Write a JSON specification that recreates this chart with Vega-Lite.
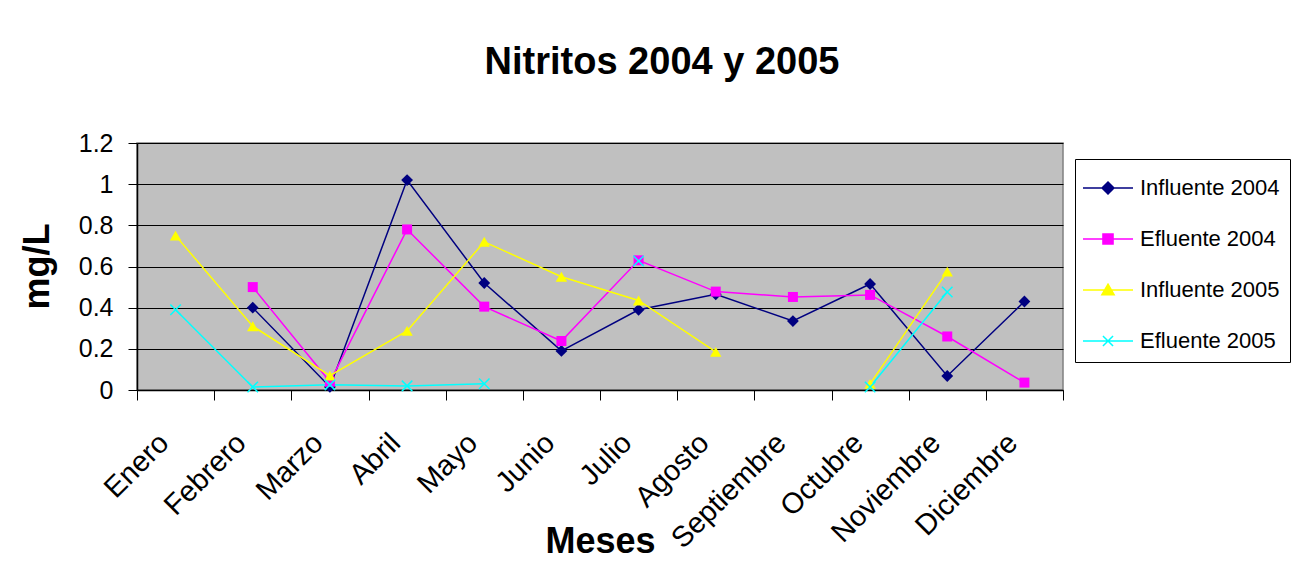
{
  "$schema": "https://vega.github.io/schema/vega-lite/v6.json",
  "autosize": "none",
  "width": 926,
  "height": 247,
  "padding": {"left": 137, "top": 143, "right": 240, "bottom": 179},
  "background": "white",
  "title": {
    "text": "Nitritos 2004 y 2005",
    "font": "Liberation Sans",
    "fontSize": 38,
    "fontWeight": "bold",
    "color": "black",
    "anchor": "middle",
    "frame": "group",
    "dx": 62,
    "dy": 43,
    "baseline": "alphabetic",
    "offset": 62
  },
  "data": {
    "values": [
      {"mes": "Enero", "serie": "Influente 2004", "v": null},
      {"mes": "Febrero", "serie": "Influente 2004", "v": 0.40},
      {"mes": "Marzo", "serie": "Influente 2004", "v": 0.015},
      {"mes": "Abril", "serie": "Influente 2004", "v": 1.02},
      {"mes": "Mayo", "serie": "Influente 2004", "v": 0.52},
      {"mes": "Junio", "serie": "Influente 2004", "v": 0.19},
      {"mes": "Julio", "serie": "Influente 2004", "v": 0.39},
      {"mes": "Agosto", "serie": "Influente 2004", "v": 0.465},
      {"mes": "Septiembre", "serie": "Influente 2004", "v": 0.335},
      {"mes": "Octubre", "serie": "Influente 2004", "v": 0.515},
      {"mes": "Noviembre", "serie": "Influente 2004", "v": 0.068},
      {"mes": "Diciembre", "serie": "Influente 2004", "v": 0.43},
      {"mes": "Enero", "serie": "Efluente 2004", "v": null},
      {"mes": "Febrero", "serie": "Efluente 2004", "v": 0.50},
      {"mes": "Marzo", "serie": "Efluente 2004", "v": 0.04},
      {"mes": "Abril", "serie": "Efluente 2004", "v": 0.78},
      {"mes": "Mayo", "serie": "Efluente 2004", "v": 0.405},
      {"mes": "Junio", "serie": "Efluente 2004", "v": 0.238},
      {"mes": "Julio", "serie": "Efluente 2004", "v": 0.63},
      {"mes": "Agosto", "serie": "Efluente 2004", "v": 0.478},
      {"mes": "Septiembre", "serie": "Efluente 2004", "v": 0.452},
      {"mes": "Octubre", "serie": "Efluente 2004", "v": 0.462},
      {"mes": "Noviembre", "serie": "Efluente 2004", "v": 0.26},
      {"mes": "Diciembre", "serie": "Efluente 2004", "v": 0.036},
      {"mes": "Enero", "serie": "Influente 2005", "v": 0.75},
      {"mes": "Febrero", "serie": "Influente 2005", "v": 0.31},
      {"mes": "Marzo", "serie": "Influente 2005", "v": 0.07},
      {"mes": "Abril", "serie": "Influente 2005", "v": 0.287},
      {"mes": "Mayo", "serie": "Influente 2005", "v": 0.72},
      {"mes": "Junio", "serie": "Influente 2005", "v": 0.55},
      {"mes": "Julio", "serie": "Influente 2005", "v": 0.435},
      {"mes": "Agosto", "serie": "Influente 2005", "v": 0.185},
      {"mes": "Septiembre", "serie": "Influente 2005", "v": null},
      {"mes": "Octubre", "serie": "Influente 2005", "v": 0.03},
      {"mes": "Noviembre", "serie": "Influente 2005", "v": 0.575},
      {"mes": "Diciembre", "serie": "Influente 2005", "v": null},
      {"mes": "Enero", "serie": "Efluente 2005", "v": 0.39},
      {"mes": "Febrero", "serie": "Efluente 2005", "v": 0.015},
      {"mes": "Marzo", "serie": "Efluente 2005", "v": 0.025},
      {"mes": "Abril", "serie": "Efluente 2005", "v": 0.02},
      {"mes": "Mayo", "serie": "Efluente 2005", "v": 0.03},
      {"mes": "Junio", "serie": "Efluente 2005", "v": null},
      {"mes": "Julio", "serie": "Efluente 2005", "v": 0.627},
      {"mes": "Agosto", "serie": "Efluente 2005", "v": null},
      {"mes": "Septiembre", "serie": "Efluente 2005", "v": null},
      {"mes": "Octubre", "serie": "Efluente 2005", "v": 0.015},
      {"mes": "Noviembre", "serie": "Efluente 2005", "v": 0.476},
      {"mes": "Diciembre", "serie": "Efluente 2005", "v": null}
    ]
  },
  "encoding": {
    "x": {
      "field": "mes",
      "type": "ordinal",
      "sort": ["Enero", "Febrero", "Marzo", "Abril", "Mayo", "Junio", "Julio", "Agosto", "Septiembre", "Octubre", "Noviembre", "Diciembre"],
      "scale": {"type": "band", "paddingInner": 0, "paddingOuter": 0},
      "axis": {
        "title": "Meses",
        "titleFont": "Liberation Sans",
        "titleFontSize": 36,
        "titleFontWeight": "bold",
        "titleColor": "black",
        "titleX": 463,
        "titleY": 162,
        "titleAnchor": null,
        "titleAlign": "center",
        "titleBaseline": "alphabetic",
        "labelAngle": -45,
        "labelAlign": "right",
        "labelBaseline": "middle",
        "labelFont": "Liberation Sans",
        "labelFontSize": 29,
        "labelColor": "black",
        "labelPadding": 38,
        "labelOffset": -12,
        "labelOverlap": false,
        "labelLimit": 400,
        "tickBand": "extent",
        "tickSize": 10,
        "tickColor": "black",
        "tickWidth": 1,
        "domainColor": "black",
        "domainWidth": 1.5,
        "grid": false
      }
    },
    "y": {
      "field": "v",
      "type": "quantitative",
      "scale": {"domain": [0, 1.2], "nice": false, "zero": true},
      "axis": {
        "title": "mg/L",
        "titleFont": "Liberation Sans",
        "titleFontSize": 36,
        "titleFontWeight": "bold",
        "titleColor": "black",
        "titleAngle": -90,
        "titleX": -89,
        "titleY": 123,
        "titleAlign": "center",
        "titleBaseline": "alphabetic",
        "values": [0, 0.2, 0.4, 0.6, 0.8, 1, 1.2],
        "format": "~g",
        "labelFont": "Liberation Sans",
        "labelFontSize": 25,
        "labelColor": "black",
        "labelPadding": 15,
        "tickSize": 9,
        "tickColor": "black",
        "domainColor": "black",
        "domainWidth": 1.5,
        "grid": true,
        "gridColor": "black",
        "gridWidth": 1
      }
    }
  },
  "layer": [
    {
      "mark": {"type": "line", "strokeWidth": 1.5, "invalid": "break-paths-show-domains"},
      "encoding": {
        "color": {
          "field": "serie",
          "type": "nominal",
          "scale": {
            "domain": ["Influente 2004", "Efluente 2004", "Influente 2005", "Efluente 2005"],
            "range": ["#000080", "#FF00FF", "#FFFF00", "#00FFFF"]
          },
          "legend": {
            "title": null,
            "orient": "none",
            "legendX": 938,
            "legendY": 16,
            "strokeColor": "black",
            "fillColor": "white",
            "padding": 10,
            "symbolSize": 1296,
            "symbolOffset": 4,
            "labelOffset": 13,
            "rowPadding": 21,
            "labelFont": "Liberation Sans",
            "labelFontSize": 22,
            "labelColor": "black",
            "labelLimit": 300,
            "symbolStrokeWidth": 1.5,
            "encode": {
              "symbols": {
                "update": {
                  "shape": {"signal": "datum.value === 'Influente 2004' ? 'M-1.39,0H1.39M0,-0.33L0.33,0L0,0.33L-0.33,0Z' : datum.value === 'Efluente 2004' ? 'M-1.39,0H1.39M-0.28,-0.28H0.28V0.28H-0.28Z' : datum.value === 'Influente 2005' ? 'M-1.39,0H1.39M0,-0.32L0.34,0.26H-0.34Z' : 'M-1.39,0H1.39M-0.28,-0.28L0.28,0.28M-0.28,0.28L0.28,-0.28'"},
                  "fill": {"signal": "datum.value === 'Influente 2004' ? '#000080' : datum.value === 'Efluente 2004' ? '#FF00FF' : datum.value === 'Influente 2005' ? '#FFFF00' : '#00FFFF'"},
                  "stroke": {"signal": "datum.value === 'Influente 2004' ? '#000080' : datum.value === 'Efluente 2004' ? '#FF00FF' : datum.value === 'Influente 2005' ? '#FFFF00' : '#00FFFF'"},
                  "strokeWidth": {"value": 1.5},
                  "opacity": {"value": 1},
                  "fillOpacity": {"value": 1},
                  "strokeOpacity": {"value": 1}
                }
              }
            }
          }
        }
      }
    },
    {
      "transform": [{"filter": "datum.serie === 'Influente 2004'"}],
      "mark": {"type": "point", "shape": "diamond", "filled": true, "size": 140, "opacity": 1, "color": "#000080", "invalid": "filter"}
    },
    {
      "transform": [{"filter": "datum.serie === 'Efluente 2004'"}],
      "mark": {"type": "point", "shape": "square", "filled": true, "size": 100, "opacity": 1, "color": "#FF00FF", "invalid": "filter"}
    },
    {
      "transform": [{"filter": "datum.serie === 'Influente 2005'"}],
      "mark": {"type": "point", "shape": "triangle-up", "filled": true, "size": 130, "opacity": 1, "color": "#FFFF00", "invalid": "filter"}
    },
    {
      "transform": [{"filter": "datum.serie === 'Efluente 2005'"}],
      "mark": {"type": "point", "shape": "M-1,-1L1,1M-1,1L1,-1", "filled": false, "size": 110, "opacity": 1, "strokeWidth": 1.5, "color": "#00FFFF", "invalid": "filter"}
    }
  ],
  "config": {
    "view": {"fill": "#C0C0C0", "stroke": "#808080", "strokeWidth": 1.5},
    "font": "Liberation Sans"
  }
}
